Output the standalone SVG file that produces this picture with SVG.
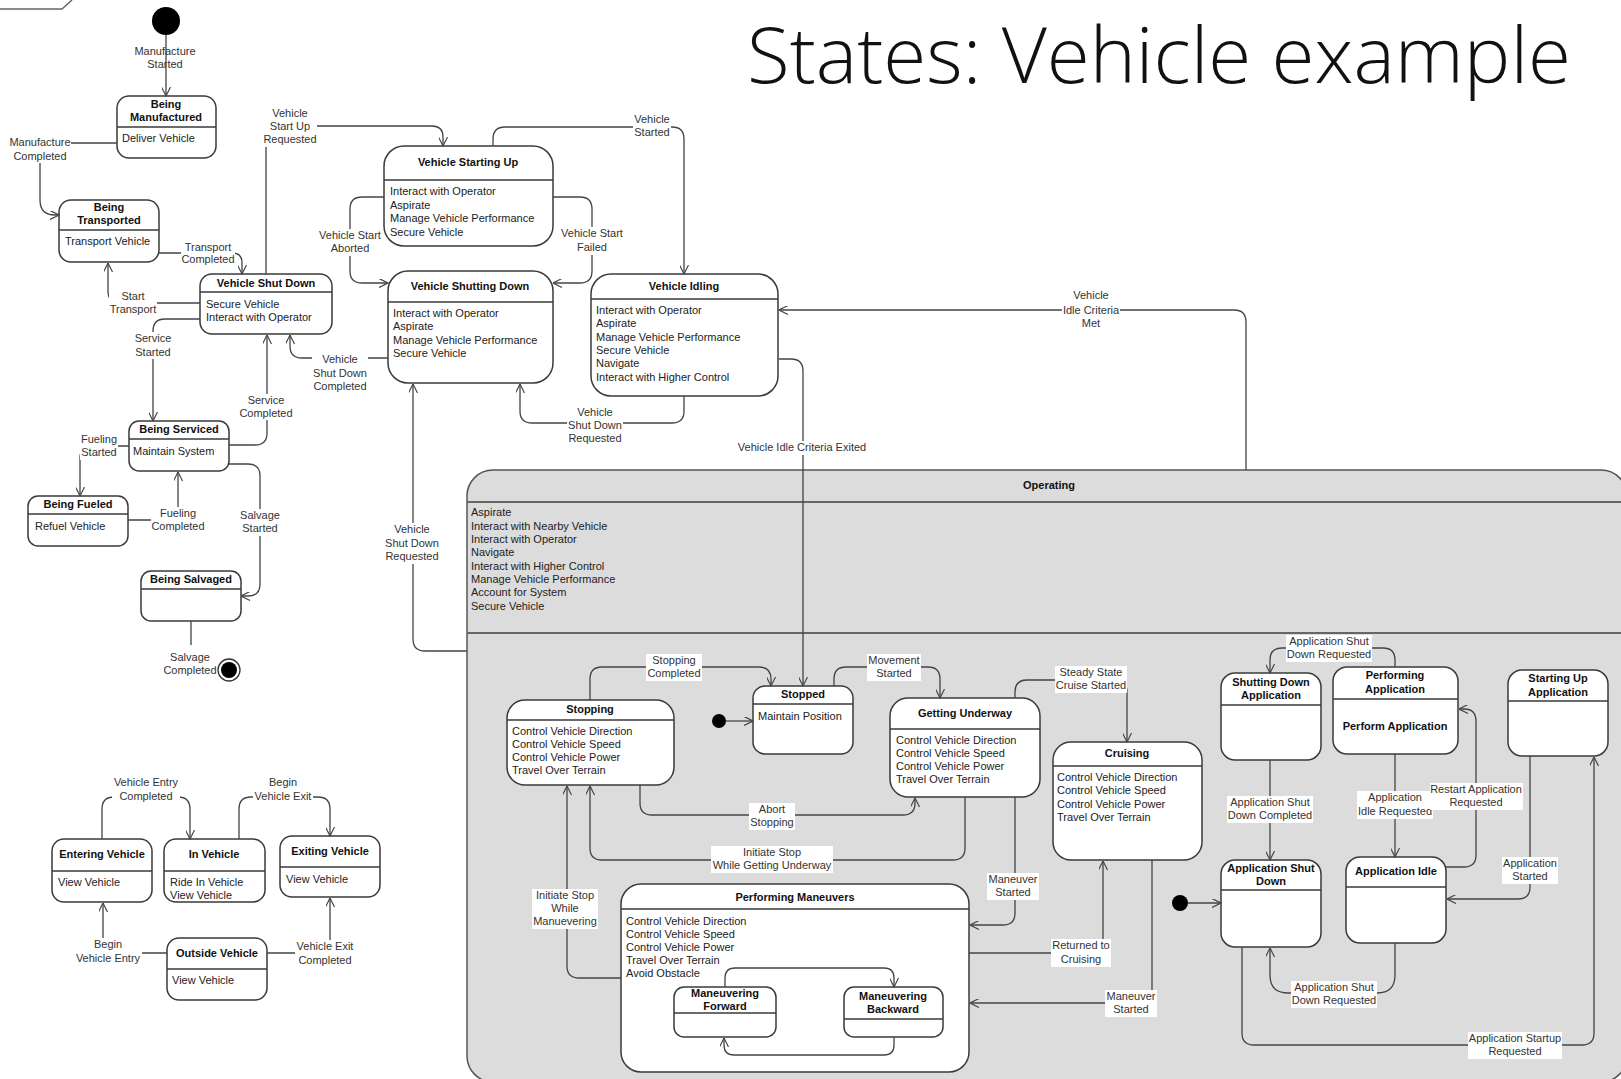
<svg xmlns="http://www.w3.org/2000/svg" width="1621" height="1079" viewBox="0 0 1621 1079">
<style>
.st{fill:#fff;stroke:#3a3a3a;stroke-width:1.5}
.dv{stroke:#3a3a3a;stroke-width:1.5}
.h{font-family:"Liberation Sans",Arial,sans-serif;font-size:11px;font-weight:bold;fill:#111;text-anchor:middle}
.a{font-family:"Liberation Sans",Arial,sans-serif;font-size:11px;fill:#222}
.l{font-family:"Liberation Sans",Arial,sans-serif;font-size:11px;fill:#333;text-anchor:middle}
.c{fill:none;stroke:#444;stroke-width:1.3}
.bg{fill:#fff}
.title{font-family:"Open Sans","Liberation Sans",sans-serif;font-weight:300;font-size:78px;fill:#111}
</style>
<defs>
<marker id="ar" viewBox="0 0 10 10" markerWidth="10" markerHeight="9" refX="10" refY="5" orient="auto" markerUnits="userSpaceOnUse">
<path d="M0,0 L10,5 L0,10" fill="none" stroke="#444" stroke-width="1.3"/>
</marker>
</defs>
<rect width="1621" height="1079" fill="#fff"/>
<polyline points="0,9 62,9 72,0" fill="none" stroke="#666" stroke-width="1.5"/>
<text class="title" x="747" y="83" textLength="824" lengthAdjust="spacingAndGlyphs">States: Vehicle example</text>

<g id="operating">
<rect x="467" y="470" width="1160" height="612" rx="26" fill="#dcdcdc" stroke="#555" stroke-width="1.5"/>
<line x1="467" y1="502" x2="1627" y2="502" stroke="#666" stroke-width="2"/>
<line x1="467" y1="633" x2="1627" y2="633" stroke="#666" stroke-width="2"/>
<text class="h" x="1049" y="489">Operating</text>
<text class="a"><tspan x="471" y="516">Aspirate</tspan><tspan x="471" y="529.5">Interact with Nearby Vehicle</tspan><tspan x="471" y="543">Interact with Operator</tspan><tspan x="471" y="556">Navigate</tspan><tspan x="471" y="569.5">Interact with Higher Control</tspan><tspan x="471" y="583">Manage Vehicle Performance</tspan><tspan x="471" y="596">Account for System</tspan><tspan x="471" y="609.5">Secure Vehicle</tspan></text>
</g>

<g id="initial-manufacture"><circle cx="166" cy="21" r="14" fill="#000"/></g>
<g id="being-manufactured">
<rect class="st" x="117" y="96" width="99" height="62" rx="12"/>
<line class="dv" x1="117" y1="127" x2="216" y2="127"/>
<text class="h"><tspan x="166" y="108">Being</tspan><tspan x="166" y="121">Manufactured</tspan></text>
<text class="a" x="122" y="142">Deliver Vehicle</text>
</g>
<g id="being-transported">
<rect class="st" x="59" y="200" width="100" height="62" rx="12"/>
<line class="dv" x1="59" y1="230" x2="159" y2="230"/>
<text class="h"><tspan x="109" y="211">Being</tspan><tspan x="109" y="224">Transported</tspan></text>
<text class="a" x="65" y="245">Transport Vehicle</text>
</g>
<g id="vehicle-shut-down">
<rect class="st" x="200" y="274" width="132" height="60" rx="12"/>
<line class="dv" x1="200" y1="292" x2="332" y2="292"/>
<text class="h" x="266" y="287">Vehicle Shut Down</text>
<text class="a"><tspan x="206" y="308">Secure Vehicle</tspan><tspan x="206" y="321">Interact with Operator</tspan></text>
</g>
<g id="vehicle-starting-up">
<rect class="st" x="384" y="146" width="169" height="100" rx="20"/>
<line class="dv" x1="384" y1="180" x2="553" y2="180"/>
<text class="h" x="468" y="166">Vehicle Starting Up</text>
<text class="a"><tspan x="390" y="195">Interact with Operator</tspan><tspan x="390" y="208.5">Aspirate</tspan><tspan x="390" y="222">Manage Vehicle Performance</tspan><tspan x="390" y="235.5">Secure Vehicle</tspan></text>
</g>
<g id="vehicle-shutting-down">
<rect class="st" x="388" y="271" width="165" height="112" rx="20"/>
<line class="dv" x1="388" y1="302" x2="553" y2="302"/>
<text class="h" x="470" y="290">Vehicle Shutting Down</text>
<text class="a"><tspan x="393" y="317">Interact with Operator</tspan><tspan x="393" y="330">Aspirate</tspan><tspan x="393" y="344">Manage Vehicle Performance</tspan><tspan x="393" y="357">Secure Vehicle</tspan></text>
</g>
<g id="vehicle-idling">
<rect class="st" x="591" y="274" width="187" height="122" rx="20"/>
<line class="dv" x1="591" y1="299" x2="778" y2="299"/>
<text class="h" x="684" y="290">Vehicle Idling</text>
<text class="a"><tspan x="596" y="314">Interact with Operator</tspan><tspan x="596" y="327">Aspirate</tspan><tspan x="596" y="341">Manage Vehicle Performance</tspan><tspan x="596" y="354">Secure Vehicle</tspan><tspan x="596" y="367">Navigate</tspan><tspan x="596" y="381">Interact with Higher Control</tspan></text>
</g>
<g id="being-serviced">
<rect class="st" x="129" y="421" width="100" height="50" rx="10"/>
<line class="dv" x1="129" y1="439" x2="229" y2="439"/>
<text class="h" x="179" y="433">Being Serviced</text>
<text class="a" x="133" y="455">Maintain System</text>
</g>
<g id="being-fueled">
<rect class="st" x="28" y="496" width="100" height="50" rx="10"/>
<line class="dv" x1="28" y1="514" x2="128" y2="514"/>
<text class="h" x="78" y="508">Being Fueled</text>
<text class="a" x="35" y="530">Refuel Vehicle</text>
</g>
<g id="being-salvaged">
<rect class="st" x="141" y="571" width="100" height="50" rx="10"/>
<line class="dv" x1="141" y1="589" x2="241" y2="589"/>
<text class="h" x="191" y="583">Being Salvaged</text>
</g>
<g id="final-salvage">
<circle cx="229" cy="670" r="11" fill="#fff" stroke="#333" stroke-width="1.3"/>
<circle cx="229" cy="670" r="8" fill="#000"/>
</g>
<g id="entering-vehicle">
<rect class="st" x="52" y="839" width="100" height="63" rx="12"/>
<line class="dv" x1="52" y1="871" x2="152" y2="871"/>
<text class="h" x="102" y="858">Entering Vehicle</text>
<text class="a" x="58" y="886">View Vehicle</text>
</g>
<g id="in-vehicle">
<rect class="st" x="164" y="839" width="101" height="63" rx="12"/>
<line class="dv" x1="164" y1="871" x2="265" y2="871"/>
<text class="h" x="214" y="858">In Vehicle</text>
<text class="a"><tspan x="170" y="886">Ride In Vehicle</tspan><tspan x="170" y="899">View Vehicle</tspan></text>
</g>
<g id="exiting-vehicle">
<rect class="st" x="280" y="836" width="100" height="61" rx="12"/>
<line class="dv" x1="280" y1="867" x2="380" y2="867"/>
<text class="h" x="330" y="855">Exiting Vehicle</text>
<text class="a" x="286" y="883">View Vehicle</text>
</g>
<g id="outside-vehicle">
<rect class="st" x="167" y="938" width="100" height="62" rx="12"/>
<line class="dv" x1="167" y1="969" x2="267" y2="969"/>
<text class="h" x="217" y="957">Outside Vehicle</text>
<text class="a" x="172" y="984">View Vehicle</text>
</g>

<g id="stopping">
<rect class="st" x="507" y="700" width="167" height="85" rx="18"/>
<line class="dv" x1="507" y1="720" x2="674" y2="720"/>
<text class="h" x="590" y="713">Stopping</text>
<text class="a"><tspan x="512" y="735">Control Vehicle Direction</tspan><tspan x="512" y="748">Control Vehicle Speed</tspan><tspan x="512" y="761">Control Vehicle Power</tspan><tspan x="512" y="774">Travel Over Terrain</tspan></text>
</g>
<g id="initial-stopped"><circle cx="719" cy="721" r="7" fill="#000"/></g>
<g id="stopped">
<rect class="st" x="753" y="686" width="100" height="68" rx="12"/>
<line class="dv" x1="753" y1="704" x2="853" y2="704"/>
<text class="h" x="803" y="698">Stopped</text>
<text class="a" x="758" y="720">Maintain Position</text>
</g>
<g id="getting-underway">
<rect class="st" x="890" y="698" width="150" height="99" rx="18"/>
<line class="dv" x1="890" y1="729" x2="1040" y2="729"/>
<text class="h" x="965" y="717">Getting Underway</text>
<text class="a"><tspan x="896" y="744">Control Vehicle Direction</tspan><tspan x="896" y="757">Control Vehicle Speed</tspan><tspan x="896" y="770">Control Vehicle Power</tspan><tspan x="896" y="783">Travel Over Terrain</tspan></text>
</g>
<g id="cruising">
<rect class="st" x="1053" y="742" width="149" height="118" rx="18"/>
<line class="dv" x1="1053" y1="766" x2="1202" y2="766"/>
<text class="h" x="1127" y="757">Cruising</text>
<text class="a"><tspan x="1057" y="781">Control Vehicle Direction</tspan><tspan x="1057" y="794">Control Vehicle Speed</tspan><tspan x="1057" y="808">Control Vehicle Power</tspan><tspan x="1057" y="821">Travel Over Terrain</tspan></text>
</g>
<g id="performing-maneuvers">
<rect class="st" x="621" y="884" width="348" height="188" rx="20"/>
<line class="dv" x1="621" y1="909" x2="969" y2="909"/>
<text class="h" x="795" y="901">Performing Maneuvers</text>
<text class="a"><tspan x="626" y="925">Control Vehicle Direction</tspan><tspan x="626" y="938">Control Vehicle Speed</tspan><tspan x="626" y="951">Control Vehicle Power</tspan><tspan x="626" y="964">Travel Over Terrain</tspan><tspan x="626" y="977">Avoid Obstacle</tspan></text>
</g>
<g id="maneuvering-forward">
<rect class="st" x="674" y="987" width="102" height="50" rx="10"/>
<line class="dv" x1="674" y1="1013" x2="776" y2="1013"/>
<text class="h"><tspan x="725" y="997">Maneuvering</tspan><tspan x="725" y="1010">Forward</tspan></text>
</g>
<g id="maneuvering-backward">
<rect class="st" x="844" y="987" width="99" height="50" rx="10"/>
<line class="dv" x1="844" y1="1019" x2="943" y2="1019"/>
<text class="h"><tspan x="893" y="1000">Maneuvering</tspan><tspan x="893" y="1013">Backward</tspan></text>
</g>
<g id="shutting-down-application">
<rect class="st" x="1221" y="673" width="100" height="87" rx="14"/>
<line class="dv" x1="1221" y1="705" x2="1321" y2="705"/>
<text class="h"><tspan x="1271" y="686">Shutting Down</tspan><tspan x="1271" y="699">Application</tspan></text>
</g>
<g id="performing-application">
<rect class="st" x="1333" y="667" width="125" height="87" rx="14"/>
<line class="dv" x1="1333" y1="699" x2="1458" y2="699"/>
<text class="h"><tspan x="1395" y="679">Performing</tspan><tspan x="1395" y="693">Application</tspan></text>
<text class="h" x="1395" y="730">Perform Application</text>
</g>
<g id="starting-up-application">
<rect class="st" x="1508" y="670" width="100" height="86" rx="14"/>
<line class="dv" x1="1508" y1="701" x2="1608" y2="701"/>
<text class="h"><tspan x="1558" y="682">Starting Up</tspan><tspan x="1558" y="696">Application</tspan></text>
</g>
<g id="initial-application"><circle cx="1180" cy="903" r="8" fill="#000"/></g>
<g id="application-shut-down">
<rect class="st" x="1221" y="860" width="100" height="87" rx="14"/>
<line class="dv" x1="1221" y1="890" x2="1321" y2="890"/>
<text class="h"><tspan x="1271" y="872">Application Shut</tspan><tspan x="1271" y="885">Down</tspan></text>
</g>
<g id="application-idle">
<rect class="st" x="1346" y="857" width="100" height="86" rx="14"/>
<line class="dv" x1="1346" y1="887" x2="1446" y2="887"/>
<text class="h" x="1396" y="875">Application Idle</text>
</g>

<g id="connectors">
<path class="c" d="M166,35 V96" marker-end="url(#ar)"/>
<path class="c" d="M117,143 H40 V200 Q40,215 55,215 H59" marker-end="url(#ar)"/>
<path class="c" d="M159,253 H232 Q242,253 242,263 V274" marker-end="url(#ar)"/>
<path class="c" d="M200,303 H120 Q108,303 108,291 V263" marker-end="url(#ar)"/>
<path class="c" d="M200,319 H165 Q153,319 153,331 V421" marker-end="url(#ar)"/>
<path class="c" d="M266,274 V126 H432 Q443,126 443,137 V146" marker-end="url(#ar)"/>
<path class="c" d="M384,197 H362 Q350,197 350,209 V271 Q350,283 362,283 H388" marker-end="url(#ar)"/>
<path class="c" d="M553,197 H580 Q592,197 592,209 V271 Q592,283 580,283 H553" marker-end="url(#ar)"/>
<path class="c" d="M493,146 V139 Q493,127 505,127 H672 Q684,127 684,139 V274" marker-end="url(#ar)"/>
<path class="c" d="M684,396 V411 Q684,423 672,423 H532 Q520,423 520,411 V384" marker-end="url(#ar)"/>
<path class="c" d="M388,358 H302 Q290,358 290,346 V335" marker-end="url(#ar)"/>
<path class="c" d="M229,445 H255 Q267,445 267,433 V335" marker-end="url(#ar)"/>
<path class="c" d="M129,446 H92 Q80,446 80,458 V496" marker-end="url(#ar)"/>
<path class="c" d="M128,520 H166 Q178,520 178,508 V472" marker-end="url(#ar)"/>
<path class="c" d="M229,464 H248 Q260,464 260,476 V584 Q260,596 248,596 H241" marker-end="url(#ar)"/>
<path class="c" d="M191,621 V645"/>
<path class="c" d="M102,839 V809 Q102,797 114,797 H178 Q190,797 190,809 V839" marker-end="url(#ar)"/>
<path class="c" d="M239,839 V809 Q239,797 251,797 H318 Q330,797 330,809 V836" marker-end="url(#ar)"/>
<path class="c" d="M167,953 H115 Q103,953 103,941 V903" marker-end="url(#ar)"/>
<path class="c" d="M267,953 H318 Q330,953 330,941 V898" marker-end="url(#ar)"/>
<path class="c" d="M779,359 H791 Q803,359 803,371 V686" marker-end="url(#ar)"/>
<path class="c" d="M1246,470 V322 Q1246,310 1234,310 H779" marker-end="url(#ar)"/>
<path class="c" d="M467,651 H425 Q413,651 413,639 V384" marker-end="url(#ar)"/>
<path class="c" d="M726,721 H753" marker-end="url(#ar)"/>
<path class="c" d="M725,987 V978 Q725,968 735,968 H884 Q894,968 894,978 V987" marker-end="url(#ar)"/>
<path class="c" d="M894,1037 V1045 Q894,1055 884,1055 H734 Q724,1055 724,1045 V1038" marker-end="url(#ar)"/>
<path class="c" d="M590,700 V679 Q590,667 602,667 H759 Q771,667 771,679 V686" marker-end="url(#ar)"/>
<path class="c" d="M834,686 V679 Q834,667 846,667 H928 Q940,667 940,679 V698" marker-end="url(#ar)"/>
<path class="c" d="M640,785 V803 Q640,815 652,815 H903 Q915,815 915,803 V798" marker-end="url(#ar)"/>
<path class="c" d="M965,797 V848 Q965,860 953,860 H602 Q590,860 590,848 V786" marker-end="url(#ar)"/>
<path class="c" d="M621,978 H579 Q567,978 567,966 V786" marker-end="url(#ar)"/>
<path class="c" d="M1015,698 V692 Q1015,680 1027,680 H1115 Q1127,680 1127,692 V742" marker-end="url(#ar)"/>
<path class="c" d="M1015,797 V913 Q1015,925 1003,925 H970" marker-end="url(#ar)"/>
<path class="c" d="M969,953 H1091 Q1103,953 1103,941 V861" marker-end="url(#ar)"/>
<path class="c" d="M1152,860 V991 Q1152,1003 1140,1003 H970" marker-end="url(#ar)"/>
<path class="c" d="M1188,903 H1221" marker-end="url(#ar)"/>
<path class="c" d="M1395,667 V660 Q1395,648 1383,648 H1282 Q1270,648 1270,660 V673" marker-end="url(#ar)"/>
<path class="c" d="M1270,760 V860" marker-end="url(#ar)"/>
<path class="c" d="M1395,754 V857" marker-end="url(#ar)"/>
<path class="c" d="M1446,867 H1464 Q1476,867 1476,855 V721 Q1476,709 1464,709 H1459" marker-end="url(#ar)"/>
<path class="c" d="M1530,756 V887 Q1530,899 1518,899 H1447" marker-end="url(#ar)"/>
<path class="c" d="M1395,943 V975 Q1395,993 1377,993 H1288 Q1270,993 1270,975 V948" marker-end="url(#ar)"/>
<path class="c" d="M1242,947 V1033 Q1242,1045 1254,1045 H1582 Q1594,1045 1594,1033 V757" marker-end="url(#ar)"/>

<text class="l"><tspan x="165" y="55">Manufacture</tspan><tspan x="165" y="68">Started</tspan></text>
<rect class="bg" x="9" y="135" width="62" height="28"/>
<text class="l"><tspan x="40" y="146">Manufacture</tspan><tspan x="40" y="160">Completed</tspan></text>
<rect class="bg" x="181" y="242" width="54" height="24"/>
<text class="l"><tspan x="208" y="251">Transport</tspan><tspan x="208" y="263">Completed</tspan></text>
<rect class="bg" x="109" y="290" width="48" height="26"/>
<text class="l"><tspan x="133" y="300">Start</tspan><tspan x="133" y="313">Transport</tspan></text>
<rect class="bg" x="134" y="332" width="38" height="27"/>
<text class="l"><tspan x="153" y="342">Service</tspan><tspan x="153" y="356">Started</tspan></text>
<rect class="bg" x="263" y="107" width="54" height="40"/>
<text class="l"><tspan x="290" y="117">Vehicle</tspan><tspan x="290" y="130">Start Up</tspan><tspan x="290" y="143">Requested</tspan></text>
<rect class="bg" x="239" y="394" width="54" height="26"/>
<text class="l"><tspan x="266" y="404">Service</tspan><tspan x="266" y="417">Completed</tspan></text>
<rect class="bg" x="312" y="353" width="56" height="40"/>
<text class="l"><tspan x="340" y="363">Vehicle</tspan><tspan x="340" y="377">Shut Down</tspan><tspan x="340" y="390">Completed</tspan></text>
<rect class="bg" x="318" y="229" width="64" height="27"/>
<text class="l"><tspan x="350" y="239">Vehicle Start</tspan><tspan x="350" y="252">Aborted</tspan></text>
<rect class="bg" x="560" y="227" width="64" height="28"/>
<text class="l"><tspan x="592" y="237">Vehicle Start</tspan><tspan x="592" y="251">Failed</tspan></text>
<rect class="bg" x="633" y="113" width="38" height="27"/>
<text class="l"><tspan x="652" y="123">Vehicle</tspan><tspan x="652" y="136">Started</tspan></text>
<rect class="bg" x="567" y="406" width="56" height="40"/>
<text class="l"><tspan x="595" y="416">Vehicle</tspan><tspan x="595" y="429">Shut Down</tspan><tspan x="595" y="442">Requested</tspan></text>
<rect class="bg" x="737" y="441" width="130" height="14"/>
<text class="l" x="802" y="451">Vehicle Idle Criteria Exited</text>
<rect class="bg" x="1062" y="289" width="58" height="42"/>
<text class="l"><tspan x="1091" y="299">Vehicle</tspan><tspan x="1091" y="314">Idle Criteria</tspan><tspan x="1091" y="327">Met</tspan></text>
<rect class="bg" x="384" y="523" width="56" height="41"/>
<text class="l"><tspan x="412" y="533">Vehicle</tspan><tspan x="412" y="547">Shut Down</tspan><tspan x="412" y="560">Requested</tspan></text>
<rect class="bg" x="80" y="433" width="38" height="27"/>
<text class="l"><tspan x="99" y="443">Fueling</tspan><tspan x="99" y="456">Started</tspan></text>
<rect class="bg" x="151" y="507" width="54" height="27"/>
<text class="l"><tspan x="178" y="517">Fueling</tspan><tspan x="178" y="530">Completed</tspan></text>
<rect class="bg" x="239" y="509" width="42" height="27"/>
<text class="l"><tspan x="260" y="519">Salvage</tspan><tspan x="260" y="532">Started</tspan></text>
<text class="l"><tspan x="190" y="661">Salvage</tspan><tspan x="190" y="674">Completed</tspan></text>
<rect class="bg" x="112" y="776" width="68" height="28"/>
<text class="l"><tspan x="146" y="786">Vehicle Entry</tspan><tspan x="146" y="800">Completed</tspan></text>
<rect class="bg" x="253" y="776" width="60" height="28"/>
<text class="l"><tspan x="283" y="786">Begin</tspan><tspan x="283" y="800">Vehicle Exit</tspan></text>
<rect class="bg" x="74" y="938" width="68" height="29"/>
<text class="l"><tspan x="108" y="948">Begin</tspan><tspan x="108" y="962">Vehicle Entry</tspan></text>
<rect class="bg" x="295" y="940" width="60" height="28"/>
<text class="l"><tspan x="325" y="950">Vehicle Exit</tspan><tspan x="325" y="964">Completed</tspan></text>

<rect class="bg" x="646" y="654" width="56" height="27"/>
<text class="l"><tspan x="674" y="664">Stopping</tspan><tspan x="674" y="677">Completed</tspan></text>
<rect class="bg" x="867" y="654" width="54" height="27"/>
<text class="l"><tspan x="894" y="664">Movement</tspan><tspan x="894" y="677">Started</tspan></text>
<rect class="bg" x="749" y="803" width="46" height="27"/>
<text class="l"><tspan x="772" y="813">Abort</tspan><tspan x="772" y="826">Stopping</tspan></text>
<rect class="bg" x="711" y="846" width="122" height="27"/>
<text class="l"><tspan x="772" y="856">Initiate Stop</tspan><tspan x="772" y="869">While Getting Underway</tspan></text>
<rect class="bg" x="532" y="889" width="66" height="40"/>
<text class="l"><tspan x="565" y="899">Initiate Stop</tspan><tspan x="565" y="912">While</tspan><tspan x="565" y="925">Manuevering</tspan></text>
<rect class="bg" x="1055" y="666" width="72" height="27"/>
<text class="l"><tspan x="1091" y="676">Steady State</tspan><tspan x="1091" y="689">Cruise Started</tspan></text>
<rect class="bg" x="987" y="873" width="52" height="27"/>
<text class="l"><tspan x="1013" y="883">Maneuver</tspan><tspan x="1013" y="896">Started</tspan></text>
<rect class="bg" x="1051" y="939" width="60" height="28"/>
<text class="l"><tspan x="1081" y="949">Returned to</tspan><tspan x="1081" y="963">Cruising</tspan></text>
<rect class="bg" x="1105" y="990" width="52" height="27"/>
<text class="l"><tspan x="1131" y="1000">Maneuver</tspan><tspan x="1131" y="1013">Started</tspan></text>
<rect class="bg" x="1286" y="635" width="86" height="27"/>
<text class="l"><tspan x="1329" y="645">Application Shut</tspan><tspan x="1329" y="658">Down Requested</tspan></text>
<rect class="bg" x="1227" y="796" width="86" height="27"/>
<text class="l"><tspan x="1270" y="806">Application Shut</tspan><tspan x="1270" y="819">Down Completed</tspan></text>
<rect class="bg" x="1357" y="791" width="76" height="28"/>
<text class="l"><tspan x="1395" y="801">Application</tspan><tspan x="1395" y="815">Idle Requested</tspan></text>
<rect class="bg" x="1430" y="783" width="93" height="27"/>
<text class="l"><tspan x="1476" y="793">Restart Application</tspan><tspan x="1476" y="806">Requested</tspan></text>
<rect class="bg" x="1502" y="857" width="56" height="27"/>
<text class="l"><tspan x="1530" y="867">Application</tspan><tspan x="1530" y="880">Started</tspan></text>
<rect class="bg" x="1291" y="981" width="86" height="27"/>
<text class="l"><tspan x="1334" y="991">Application Shut</tspan><tspan x="1334" y="1004">Down Requested</tspan></text>
<rect class="bg" x="1468" y="1032" width="94" height="27"/>
<text class="l"><tspan x="1515" y="1042">Application Startup</tspan><tspan x="1515" y="1055">Requested</tspan></text>
</g>
</svg>
